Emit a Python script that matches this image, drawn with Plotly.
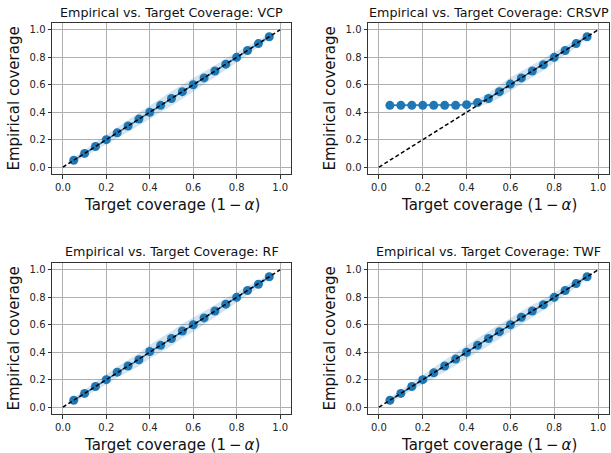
import plotly.graph_objects as go

target = [0.05, 0.10, 0.15, 0.20, 0.25, 0.30, 0.35, 0.40, 0.45, 0.50,
          0.55, 0.60, 0.65, 0.70, 0.75, 0.80, 0.85, 0.90, 0.95]

models = ["VCP", "CRSVP", "RF", "TWF"]

emp_vcp = [0.05, 0.10, 0.15, 0.20, 0.25, 0.30, 0.35, 0.40, 0.45, 0.50,
           0.55, 0.60, 0.65, 0.70, 0.75, 0.80, 0.85, 0.90, 0.95]
emp_crsvp = [0.45, 0.45, 0.45, 0.45, 0.45, 0.45, 0.45, 0.455, 0.47, 0.50,
             0.55, 0.605, 0.65, 0.70, 0.745, 0.80, 0.85, 0.90, 0.95]
emp_rf = [0.05, 0.10, 0.15, 0.20, 0.255, 0.30, 0.345, 0.405, 0.45, 0.50,
          0.555, 0.60, 0.65, 0.70, 0.75, 0.80, 0.85, 0.895, 0.95]
emp_twf = [0.05, 0.10, 0.15, 0.20, 0.25, 0.30, 0.35, 0.40, 0.45, 0.50,
           0.55, 0.60, 0.655, 0.70, 0.745, 0.80, 0.85, 0.90, 0.95]

# half-width of the shaded band (spread across runs)
hw_vcp = [0.02, 0.026, 0.032, 0.036, 0.04, 0.044, 0.047, 0.05, 0.052, 0.052,
          0.052, 0.05, 0.048, 0.045, 0.041, 0.037, 0.032, 0.026, 0.018]
hw_crsvp = [0.008, 0.008, 0.008, 0.008, 0.008, 0.008, 0.008, 0.012, 0.026, 0.038,
            0.047, 0.05, 0.048, 0.045, 0.041, 0.037, 0.032, 0.026, 0.018]
hw_rf = [0.02, 0.026, 0.032, 0.036, 0.04, 0.044, 0.047, 0.05, 0.052, 0.052,
         0.052, 0.05, 0.048, 0.045, 0.041, 0.037, 0.032, 0.026, 0.018]
hw_twf = [0.02, 0.026, 0.032, 0.036, 0.04, 0.044, 0.047, 0.05, 0.052, 0.052,
          0.052, 0.05, 0.048, 0.045, 0.041, 0.037, 0.032, 0.026, 0.018]

diag = [0.0, 1.0]
tick_vals = [0.0, 0.2, 0.4, 0.6, 0.8, 1.0]
tick_text = ["0.0", "0.2", "0.4", "0.6", "0.8", "1.0"]

emps = [emp_vcp, emp_crsvp, emp_rf, emp_twf]
hws = [hw_vcp, hw_crsvp, hw_rf, hw_twf]

W, H = 611, 453
# axes boxes in pixels (left, right, top, bottom)
boxes = [(52, 291, 23, 174), (368, 609, 23, 174),
         (52, 291, 263, 414), (368, 609, 263, 414)]

BLUE = "#1f77b4"
fig = go.Figure()
layout = dict(width=W, height=H, margin=dict(l=0, r=0, t=0, b=0),
              paper_bgcolor="white", plot_bgcolor="white", showlegend=False,
              font=dict(family="DejaVu Sans", color="#222"))
annotations = []

for i, (name, emp, hw, box) in enumerate(zip(models, emps, hws, boxes)):
    n = "" if i == 0 else str(i + 1)
    xa, ya = "x" + n, "y" + n
    lower = [e - h for e, h in zip(emp, hw)]
    upper = [e + h for e, h in zip(emp, hw)]
    fig.add_trace(go.Scatter(x=target, y=lower, xaxis=xa, yaxis=ya, mode="lines",
                             line=dict(width=0), hoverinfo="skip"))
    fig.add_trace(go.Scatter(x=target, y=upper, xaxis=xa, yaxis=ya, mode="lines",
                             line=dict(width=0), fill="tonexty",
                             fillcolor="rgba(31,119,180,0.2)", hoverinfo="skip"))
    fig.add_trace(go.Scatter(x=target, y=emp, xaxis=xa, yaxis=ya, mode="lines+markers",
                             line=dict(color=BLUE, width=1.5),
                             marker=dict(color=BLUE, size=9)))
    fig.add_trace(go.Scatter(x=diag, y=diag, xaxis=xa, yaxis=ya, mode="lines",
                             line=dict(color="black", width=1.5, dash="4px,2.5px")))
    l, r, t, b = box
    axcommon = dict(range=[-0.05, 1.05], tickvals=tick_vals, ticktext=tick_text,
                    showgrid=True, gridcolor="#b0b0b0", gridwidth=0.8,
                    zeroline=False, showline=True, linecolor="#333", linewidth=1,
                    mirror=True, ticks="outside", ticklen=3.5, tickcolor="#333",
                    tickfont=dict(size=10, color="#222"))
    layout["xaxis" + n] = dict(axcommon, domain=[l / W, r / W], anchor=ya)
    layout["yaxis" + n] = dict(axcommon, domain=[1 - b / H, 1 - t / H], anchor=xa)
    cx = (l + r) / 2
    annotations.append(dict(text="Empirical vs. Target Coverage: " + name,
                            x=cx / W, y=1 - (t - 11) / H, xref="paper", yref="paper",
                            showarrow=False, font=dict(size=12.7, color="#111"),
                            xanchor="center", yanchor="middle"))
    annotations.append(dict(text="Target coverage (1\u2009\u2212\u2009<i>\u03b1</i>)",
                            x=cx / W, y=1 - (b + 31) / H, xref="paper", yref="paper",
                            showarrow=False, font=dict(size=15, color="#111"),
                            xanchor="center", yanchor="middle"))
    annotations.append(dict(text="Empirical coverage", textangle=-90,
                            x=(l - 39) / W, y=1 - ((t + b) / 2) / H, xref="paper",
                            yref="paper", showarrow=False,
                            font=dict(size=15, color="#111"),
                            xanchor="center", yanchor="middle"))

layout["annotations"] = annotations
fig.update_layout(**layout)
fig.write_html("out.html", config={"displayModeBar": False},
               post_script="document.body.style.margin='0';document.body.style.overflow='hidden';")
